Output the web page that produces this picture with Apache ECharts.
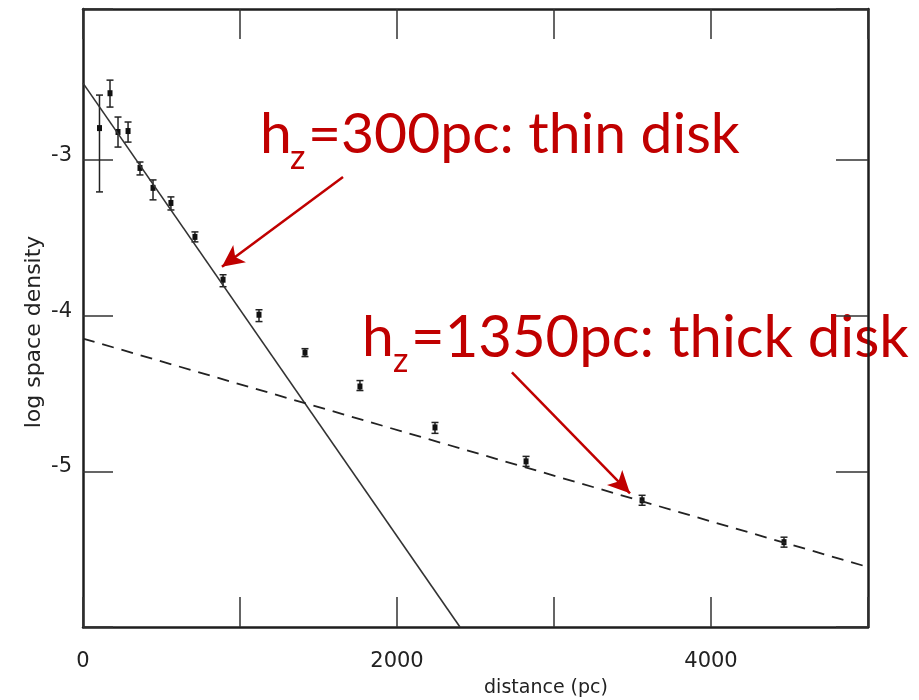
<!DOCTYPE html>
<html>
<head>
<meta charset="utf-8">
<script src="https://cdn.jsdelivr.net/npm/echarts@6/dist/echarts.min.js"></script>
<style>html,body{margin:0;padding:0;background:#fff;}#c{width:919px;height:700px;}</style>
</head>
<body>
<div id="c"></div>
<script>
// ---- data ----
const distance   = [105, 172, 223, 287, 363, 446, 560, 713, 892, 1121, 1414, 1764, 2242, 2822, 3561, 4465];
const logDensity = [-2.795, -2.571, -2.82, -2.814, -3.051, -3.179, -3.276, -3.494, -3.769, -3.994, -4.237, -4.455, -4.718, -4.936, -5.186, -5.455];
const errLow     = [-3.205, -2.660, -2.917, -2.885, -3.096, -3.256, -3.321, -3.526, -3.814, -4.038, -4.263, -4.481, -4.756, -4.968, -5.218, -5.487];
const errHigh    = [-2.583, -2.487, -2.724, -2.756, -3.013, -3.128, -3.237, -3.462, -3.737, -3.962, -4.212, -4.417, -4.686, -4.904, -5.154, -5.423];
const thinDiskLine  = [[0, -2.506], [2401, -6]];
const thickDiskLine = [[0, -4.147], [5000, -5.615]];
const arrowThin  = [[1656, -3.109], [885, -3.686]];
const arrowThick = [[2732, -4.365], [3484, -5.141]];
const xTickLabels = [0, 2000, 4000];
const yTickLabels = [-3, -4, -5];
const thinLabel  = ['h', 'z', '=300pc: thin disk'];
const thickLabel = ['h', 'z', '=1350pc: thick disk'];
const xName = 'distance (pc)';
const yName = 'log space density';

const errData = distance.map((d, i) => [d, logDensity[i], errLow[i], errHigh[i]]);

const chart = echarts.init(document.getElementById('c'), null, {renderer: 'canvas'});
const axisCol = '#1e1e1e';
const labelFont = {fontFamily: 'DejaVu Sans', fontSize: 21, color: '#222'};
const red = '#C00000';

const option = {
  animation: false,
  backgroundColor: '#fff',
  grid: {left: 83, right: 51, top: 9, bottom: 73},
  xAxis: [
    {type: 'value', min: 0, max: 5000, interval: 1000, position: 'bottom',
     axisLine: {show: true, onZero: false, lineStyle: {color: axisCol, width: 2.5}},
     axisTick: {show: true, inside: true, length: 30, lineStyle: {color: '#333', width: 1.5}},
     axisLabel: Object.assign({margin: 24, formatter: v => xTickLabels.includes(v) ? String(v) : ''}, labelFont),
     splitLine: {show: false}},
    {type: 'value', min: 0, max: 5000, interval: 1000, position: 'top',
     axisLine: {show: true, onZero: false, lineStyle: {color: axisCol, width: 2.5}},
     axisTick: {show: true, inside: true, length: 30, lineStyle: {color: '#333', width: 1.5}},
     axisLabel: {show: false}, splitLine: {show: false}}
  ],
  yAxis: [
    {type: 'value', min: -6, max: -2.03, interval: 1, position: 'left',
     axisLine: {show: true, onZero: false, lineStyle: {color: axisCol, width: 2.5}},
     axisTick: {show: true, inside: true, length: 30, lineStyle: {color: '#333', width: 1.5}},
     axisLabel: Object.assign({margin: 11, verticalAlign: 'bottom', lineHeight: 9,
       formatter: v => yTickLabels.includes(v) ? String(v) : ''}, labelFont),
     splitLine: {show: false}},
    {type: 'value', min: -6, max: -2.03, interval: 1, position: 'right',
     axisLine: {show: true, onZero: false, lineStyle: {color: axisCol, width: 2.5}},
     axisTick: {show: true, inside: true, length: 32, lineStyle: {color: '#333', width: 1.5}},
     axisLabel: {show: false}, splitLine: {show: false}}
  ],
  graphic: [
    {type: 'text', x: 34, y: 332, rotation: Math.PI / 2,
     style: {text: yName, font: '22px "DejaVu Sans"', fill: '#222', align: 'center', verticalAlign: 'middle'}},
    {type: 'text', x: 546, y: 688,
     style: {text: xName, font: '19px "DejaVu Sans"', fill: '#222', align: 'center', verticalAlign: 'middle'}},
    {type: 'text', x: 260, y: 135, style: {text: thinLabel[0], font: '57px Lato', fill: red, align: 'left', verticalAlign: 'middle'}},
    {type: 'text', x: 290, y: 158, style: {text: thinLabel[1], font: '34px Lato', fill: red, align: 'left', verticalAlign: 'middle'}},
    {type: 'text', x: 308, y: 135, style: {text: thinLabel[2], font: '57px Lato', fill: red, align: 'left', verticalAlign: 'middle'}},
    {type: 'text', x: 362, y: 338, style: {text: thickLabel[0], font: '57px Lato', fill: red, align: 'left', verticalAlign: 'middle'}},
    {type: 'text', x: 393, y: 361, style: {text: thickLabel[1], font: '34px Lato', fill: red, align: 'left', verticalAlign: 'middle'}},
    {type: 'text', x: 411, y: 338, style: {text: thickLabel[2], font: '58px Lato', fill: red, align: 'left', verticalAlign: 'middle'}}
  ],
  series: [
    {type: 'line', name: 'thin', data: thinDiskLine, symbol: 'none', silent: true,
     lineStyle: {color: '#333', width: 1.6}},
    {type: 'line', name: 'thick', data: thickDiskLine, symbol: 'none', silent: true,
     lineStyle: {color: '#222', width: 1.8, type: [12, 8]},
     markLine: {silent: true, symbol: ['none', 'arrow'], symbolSize: [16, 22], animation: false,
       label: {show: false},
       lineStyle: {color: red, width: 2.5, type: 'solid'},
       emphasis: {disabled: true},
       data: [
         [{coord: arrowThin[0]}, {coord: arrowThin[1]}],
         [{coord: arrowThick[0]}, {coord: arrowThick[1]}]
       ]}},
    {type: 'custom', name: 'points', data: errData, silent: true,
     renderItem: function (params, api) {
       const p = api.coord([api.value(0), api.value(1)]);
       const lo = api.coord([api.value(0), api.value(2)]);
       const hi = api.coord([api.value(0), api.value(3)]);
       const st = {stroke: '#222', lineWidth: 1.5};
       return {type: 'group', children: [
         {type: 'line', shape: {x1: lo[0], y1: lo[1], x2: hi[0], y2: hi[1]}, style: st},
         {type: 'line', shape: {x1: lo[0] - 3.5, y1: lo[1], x2: lo[0] + 3.5, y2: lo[1]}, style: st},
         {type: 'line', shape: {x1: hi[0] - 3.5, y1: hi[1], x2: hi[0] + 3.5, y2: hi[1]}, style: st},
         {type: 'rect', shape: {x: p[0] - 2.5, y: p[1] - 3, width: 5, height: 6}, style: {fill: '#111'}}
       ]};
     }}
  ]
};
chart.setOption(option);
</script>
</body>
</html>
